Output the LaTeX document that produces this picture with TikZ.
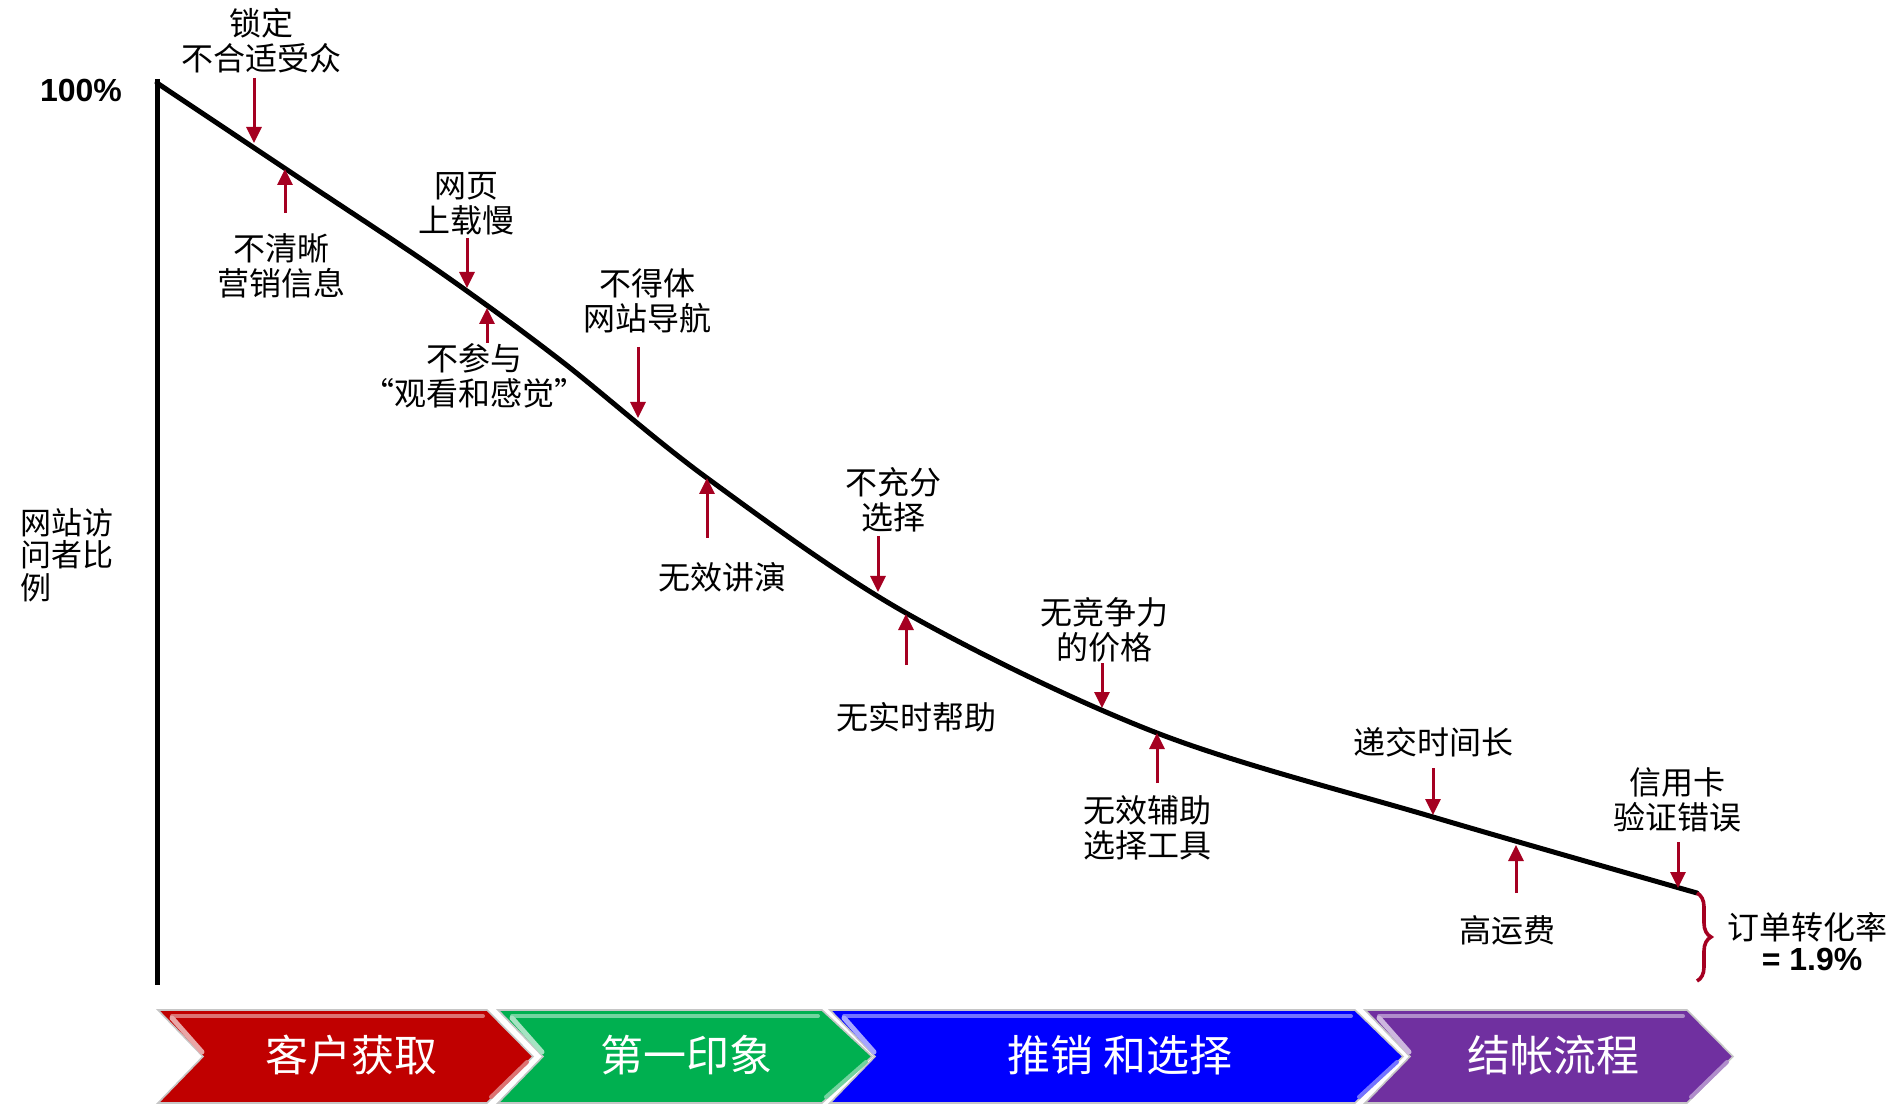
\documentclass[tikz,border=0pt]{standalone}
\usepackage{fontspec}
\setmainfont{Liberation Sans}
\newfontfamily\cjk{Noto Sans CJK SC}
\usetikzlibrary{arrows.meta,decorations.pathreplacing}
\definecolor{arrred}{HTML}{A50021}
\definecolor{chred}{HTML}{C00000}
\definecolor{chgreen}{HTML}{00B050}
\definecolor{chblue}{HTML}{0000FF}
\definecolor{chpurple}{HTML}{7030A0}
\newcommand\chevronpath[4]{% x0, x1, tip, colour
  \fill[#4, draw=gray!45, line width=0.8pt] (#1,1010) -- (#2,1010) -- (#3,1056.5) -- (#2,1103) -- (#1,1103) -- (#1+45,1056.5) -- cycle;
  \draw[#4!55!white, line width=2pt, line cap=round] (#1+14,1016) -- (#2-4,1016);
  \draw[#4!35!white, line width=2.5pt, line cap=round] (#1+14,1018) -- (#1+44,1052);
  \draw[#4!55!white, line width=2pt, line cap=round] (#3-6,1062) -- (#2+4,1097);
}
\begin{document}
\begin{tikzpicture}[x=0.5pt,y=-0.5pt,
  lbl/.style={font=\cjk\fontsize{16}{17.5}\selectfont, align=center, inner sep=0pt},
  warn/.style={draw=arrred, line width=1.5pt, -{Triangle[width=7.5pt,length=8pt]}},
  chevtext/.style={font=\cjk\fontsize{21.5}{24}\selectfont, text=white, inner sep=0pt}]
\useasboundingbox (0,0) rectangle (1895,1106);
\fill[white] (0,0) rectangle (1895,1106);

% axis and curve
\coordinate (top) at (157,83);
\coordinate (bot) at (157,985);
\draw[line width=2.5pt] (157,79) -- (bot);
\draw[line width=2.5pt, line join=round, line cap=round] plot[smooth, tension=0.55] coordinates {(157,83) (300,178.5) (440,272) (560,360) (707,478) (906,613) (1157,733) (1433,817) (1697,893)};
\coordinate (cend) at (1697,893);
\coordinate (bend) at (1697,981);

% axis labels
\node[font=\bfseries\fontsize{16}{18}\selectfont, inner sep=0pt] (pct) at (81,90) {100\%};
\node[font=\cjk\fontsize{15.5}{16.3}\selectfont, align=left, inner sep=0pt, anchor=west] (yl) at (20,555) {网站访\\问者比\\例};

% labels
\node[lbl] (l1) at (261,41) {锁定\\不合适受众};
\node[lbl] (l2) at (281,266) {不清晰\\营销信息};
\node[lbl] (l3) at (466,204) {网页\\上载慢};
\node[lbl] (l4) at (474,376) {不参与\\“观看和感觉”};
\node[lbl] (l5) at (647,301) {不得体\\网站导航};
\node[lbl] (l6) at (722,577) {无效讲演};
\node[lbl] (l7) at (893,500) {不充分\\选择};
\node[lbl] (l8) at (916,717) {无实时帮助};
\node[lbl] (l9) at (1104,630) {无竞争力\\的价格};
\node[lbl] (l10) at (1147,828) {无效辅助\\选择工具};
\node[lbl] (l11) at (1433,742) {递交时间长};
\node[lbl] (l12) at (1507,930) {高运费};
\node[lbl] (l13) at (1677,800) {信用卡\\验证错误};

% arrows
\coordinate (a1s) at (254,78);   \coordinate (a1e) at (254,143);
\coordinate (a2s) at (285,213);  \coordinate (a2e) at (285,169);
\coordinate (a3s) at (467,238);  \coordinate (a3e) at (467,288);
\coordinate (a4s) at (487,343);  \coordinate (a4e) at (487,308);
\coordinate (a5s) at (638,347);  \coordinate (a5e) at (638,418);
\coordinate (a6s) at (707,538);  \coordinate (a6e) at (707,478);
\coordinate (a7s) at (878,536);  \coordinate (a7e) at (878,592);
\coordinate (a8s) at (906,665);  \coordinate (a8e) at (906,614);
\coordinate (a9s) at (1102,663); \coordinate (a9e) at (1102,708);
\coordinate (a10s) at (1157,783); \coordinate (a10e) at (1157,733);
\coordinate (a11s) at (1433,768); \coordinate (a11e) at (1433,815);
\coordinate (a12s) at (1516,893); \coordinate (a12e) at (1516,845);
\coordinate (a13s) at (1678,842); \coordinate (a13e) at (1678,888);
\foreach \i in {1,...,13} \draw[warn] (a\i s) -- (a\i e);

% brace and conversion
\draw[arrred, line width=1.8pt, decorate, decoration={brace, amplitude=7pt}] (cend) -- (bend);
\node[lbl] (conv) at (1807,927) {订单转化率};
\node[font=\bfseries\fontsize{16}{18}\selectfont, inner sep=0pt] (rate) at (1812,959) {= 1.9\%};

% chevrons
\chevronpath{158}{487}{533}{chred}
\chevronpath{498}{822}{872}{chgreen}
\chevronpath{830}{1355}{1403}{chblue}
\chevronpath{1365}{1687}{1733}{chpurple}
\node[chevtext] (c1) at (351,1055) {客户获取};
\node[chevtext] (c2) at (686,1055) {第一印象};
\node[chevtext] (c3) at (1120,1055) {推销 和选择};
\node[chevtext] (c4) at (1553,1055) {结帐流程};
\end{tikzpicture}
\end{document}
